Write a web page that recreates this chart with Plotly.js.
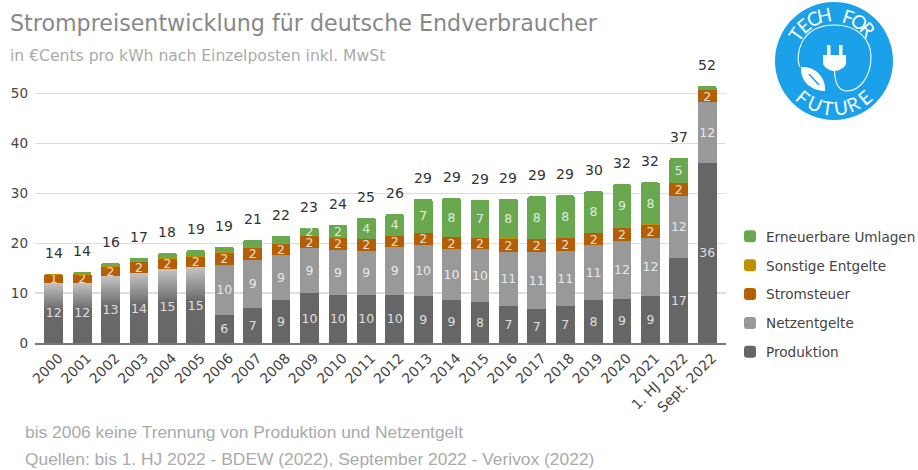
<!DOCTYPE html>
<html><head><meta charset="utf-8">
<script src="https://cdn.plot.ly/plotly-3.0.1.min.js"></script>
<style>html,body{margin:0;padding:0;background:#fff}</style></head>
<body><div id="chart" style="width:918px;height:470px"></div>
<script>
const categories=['2000','2001','2002','2003','2004','2005','2006','2007','2008','2009','2010','2011','2012','2013','2014','2015','2016','2017','2018','2019','2020','2021','1. HJ 2022','Sept. 2022'];
const produktion=[12.1,12.1,13.4,14.0,14.8,15.2,5.7,7.1,8.6,10.0,9.7,9.7,9.7,9.4,8.7,8.2,7.4,6.8,7.4,8.6,8.9,9.4,17.1,36.1];
const netzentgelte=[0,0,0,0,0,0,9.9,9.5,9.0,9.0,9.0,8.8,9.5,10.3,10.1,10.7,10.9,11.5,11.1,11.0,11.6,11.7,12.3,12.2];
const stromsteuer=[1.6,1.6,1.9,2.3,2.1,2.1,2.5,2.5,2.3,2.4,2.3,2.3,2.2,2.3,2.4,2.2,2.6,2.5,2.5,2.4,2.6,2.6,2.6,2.3];
const sonstige=[0.1,0.1,0.1,0.1,0.1,0.1,0.1,0.1,0.1,0.1,0.1,0.1,0.1,0.1,0.1,0.1,0.1,0.1,0.1,0.1,0.1,0.1,0.1,0.1];
const erneuerbare=[0.1,0.4,0.6,0.7,1.0,1.2,1.1,1.5,1.5,1.6,2.6,4.2,4.3,6.8,7.8,7.5,7.9,8.5,8.5,8.3,8.6,8.4,5.0,0.8];
const labelsProd=['12','12','13','14','15','15','6','7','9','10','10','10','10','9','9','8','7','7','7','8','9','9','17','36'];
const labelsNetz=['','','','','','','10','9','9','9','9','9','9','10','10','10','11','11','11','11','12','12','12','12'];
const labelsSteuer=['1','2','2','2','2','2','2','2','2','2','2','2','2','2','2','2','2','2','2','2','2','2','2','2'];
const labelsErn=['','','','','','','','','','2','2','4','4','7','8','7','8','8','8','8','9','8','5',''];
const totalLabels=['14','14','16','17','18','19','19','21','22','23','24','25','26','29','29','29','29','29','29','30','32','32','37','52'];
const gradientBars=6;

const W=918,H=470;
const px=x=>x/W, py=y=>1-y/H;
const P=(s)=>s.replace(/(-?[\d.]+),(-?[\d.]+)/g,(m,a,b)=>px(+a)+' '+py(+b));
const FONT='"DejaVu Sans", sans-serif';
function bar(name,y,color,text,rank){return {type:'bar',name,x:categories,y,text,textposition:text?'inside':'none',insidetextanchor:'middle',textangle:0,constraintext:'none',
  textfont:{family:FONT,size:12.5,color:'rgba(255,255,255,0.8)'},marker:{color,line:{width:0}},legendgroup:name,legendrank:rank,hoverinfo:'y+name',cliponaxis:false};}
const data=[
 bar('Produktion',produktion,'#666666',labelsProd,5),
 bar('Netzentgelte',netzentgelte,'#999999',labelsNetz,4),
 bar('Stromsteuer',stromsteuer,'#b45f06',labelsSteuer,3),
 bar('Sonstige Entgelte',sonstige,'#bf9000',null,2),
 bar('Erneuerbare Umlagen',erneuerbare,'#6aa84f',labelsErn,1)
];
const totals=categories.map((c,i)=>produktion[i]+netzentgelte[i]+stromsteuer[i]+sonstige[i]+erneuerbare[i]);
const ann=categories.map((c,i)=>({x:i,y:totals[i],xref:'x',yref:'y',yshift:21,text:totalLabels[i],showarrow:false,yanchor:'middle',xanchor:'center',font:{family:FONT,size:14,color:'#333'}}));
const notes=[['in €Cents pro kWh nach Einzelposten inkl. MwSt',8,56,FONT,15.6],
 ['bis 2006 keine Trennung von Produktion und Netzentgelt',23,432,'"Liberation Sans",sans-serif',17.4],
 ['Quellen: bis 1. HJ 2022 - BDEW (2022), September 2022 - Verivox (2022)',23,459,'"Liberation Sans",sans-serif',17.4]];
notes.forEach(n=>ann.push({x:px(n[1]),y:py(n[2]),xref:'paper',yref:'paper',xanchor:'left',yanchor:'middle',showarrow:false,text:n[0],font:{family:n[3],size:n[4],color:'#aaaaaa'}}));
const cx=834,cy=61;
function arc(str,a0,step,r,bottom){[...str].forEach((ch,i)=>{if(ch===' ')return;const a=a0+step*i,rad=a*Math.PI/180;
  const x=bottom?cx-r*Math.sin(rad):cx+r*Math.sin(rad),y=bottom?cy+r*Math.cos(rad):cy-r*Math.cos(rad);
  ann.push({x:px(x),y:py(y),xref:'paper',yref:'paper',showarrow:false,text:ch,textangle:a,xanchor:'center',yanchor:'middle',font:{family:'Lato, sans-serif',size:19,color:'#fff'}});});}
arc('TECH FOR',-55,14.6,47,false);
arc('FUTURE',40,-16,47,true);
const shapes=[
 {type:'circle',xref:'paper',yref:'paper',x0:px(cx-59),x1:px(cx+59),y0:py(cy+59),y1:py(cy-59),fillcolor:'#1ba1ea',line:{width:0}},
 {type:'path',xref:'paper',yref:'paper',path:P('M800,67 C795,58 798,25 835,25 C858,25 871,40 871,57 C871,76 860,91 847,91 C838,91 835,83 834.5,71'),line:{color:'#fff',width:1.1}},
 {type:'path',xref:'paper',yref:'paper',path:P('M801,67 C815,66 826,77 825,91 C812,91 800,82 801,67 Z'),fillcolor:'#fff',line:{width:0}},
 {type:'path',xref:'paper',yref:'paper',path:P('M809,74 L819,85'),line:{color:'#1ba1ea',width:1.6}},
 {type:'path',xref:'paper',yref:'paper',path:P('M823,55 L846,55 L846,63 C846,67 840,70 836,71 L833,71 C829,70 823,67 823,63 Z'),fillcolor:'#fff',line:{width:0}},
 {type:'path',xref:'paper',yref:'paper',path:P('M827,45 L830.5,45 L830.5,55 L827,55 Z'),fillcolor:'#fff',line:{width:0}},
 {type:'path',xref:'paper',yref:'paper',path:P('M839,45 L842.5,45 L842.5,55 L839,55 Z'),fillcolor:'#fff',line:{width:0}}
];
const legendDomX=715, legendShift=15;
const layout={width:W,height:H,margin:{l:0,r:0,t:0,b:0},paper_bgcolor:'#fff',plot_bgcolor:'#fff',barmode:'stack',bargap:0.34,barcornerradius:2,
 title:{text:'Strompreisentwicklung für deutsche Endverbraucher',x:px(10),xanchor:'left',xref:'paper',y:py(23),yanchor:'middle',font:{family:FONT,size:22.2,color:'#888888'}},
 xaxis:{domain:[px(35),px(726)],range:[-0.66,23.66],type:'category',categoryorder:'array',categoryarray:categories,tickangle:-45,ticks:'',ticklabelshift:5,showgrid:false,showline:true,linecolor:'#777777',linewidth:1.5,zeroline:false,tickfont:{family:FONT,size:14,color:'#444'},fixedrange:true},
 yaxis:{domain:[py(343),py(63.5)],range:[0,56],tickvals:[0,10,20,30,40,50],ticktext:['0','10','20','30','40','50'],ticks:'',showline:false,gridcolor:'#dddddd',gridwidth:1.2,zeroline:false,tickfont:{family:FONT,size:13.5,color:'#444'},ticklabelstandoff:6,fixedrange:true},
 legend:{x:px(legendDomX),y:py(221),xanchor:'left',yanchor:'top',traceorder:'grouped',tracegroupgap:8.2,font:{family:FONT,size:13.6,color:'#444'},bgcolor:'rgba(0,0,0,0)',itemclick:false,itemdoubleclick:false},
 annotations:ann,shapes,showlegend:true
};
Plotly.newPlot('chart',data,layout,{staticPlot:true,displayModeBar:false}).then(gd=>{
 const svg=gd.querySelector('.main-svg');
 const NS='http://www.w3.org/2000/svg';
 const g=document.createElementNS(NS,'linearGradient');
 g.setAttribute('id','fadeBar');g.setAttribute('x1','0');g.setAttribute('y1','1');g.setAttribute('x2','0');g.setAttribute('y2','0');
 [[0,'#666666'],[0.55,'#6a6a6a'],[1,'#c4c4c4']].forEach(s=>{const st=document.createElementNS(NS,'stop');st.setAttribute('offset',s[0]);st.setAttribute('stop-color',s[1]);g.appendChild(st);});
 svg.querySelector('defs').appendChild(g);
 const trace=gd.querySelectorAll('.barlayer .trace')[0];
 trace.querySelectorAll('.point').forEach((pt,i)=>{if(i<gradientBars){pt.querySelector('path').style.fill='url(#fadeBar)';}});
 gd.querySelectorAll('.legendtext').forEach(t=>{t.setAttribute('x',(+t.getAttribute('x'))-4);});
 const lg=gd.querySelector('.legend');
 const m=/translate\(([-\d.]+)[ ,]+([-\d.]+)\)/.exec(lg.getAttribute('transform'));
 lg.setAttribute('transform','translate('+(+m[1]+legendShift)+','+m[2]+')');
});
</script></body></html>
